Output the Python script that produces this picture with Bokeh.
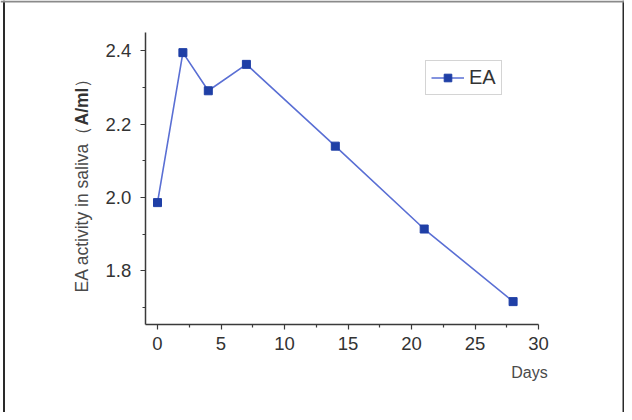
import math
from bokeh.plotting import figure
from bokeh.models import Range1d, FixedTicker, Label, Legend, Span
from bokeh.embed import file_html
from bokeh.resources import INLINE

days = [0, 2, 4, 7, 14, 21, 28]
ea_activity = [1.986, 2.395, 2.291, 2.363, 2.140, 1.914, 1.716]
x_ticks = [0, 5, 10, 15, 20, 25, 30]
y_ticks = [1.8, 2.0, 2.2, 2.4]
y_label_main = "EA activity in saliva（"
y_label_unit = "A/ml"
y_label_close = "）"
x_label = "Days"
series_name = "EA"

FONT = "Liberation Sans"

# pixel layout -> data ranges (frame covers whole canvas, axes fixed inside it)
X0_PX, X_PX_PER_UNIT = 165.0, 12.7        # page x of day 0, px per day
Y24_PX, Y_PX_PER_UNIT = 58.3, 366.7       # page y of 2.4, px per unit
W, H, OX, OY = 624, 412, 8, 8


def xd(px):
    return (px - X0_PX) / X_PX_PER_UNIT


def yd(py):
    return 2.4 - (py - Y24_PX) / Y_PX_PER_UNIT


x_axis_bounds = (-0.97, 30)
y_axis_bounds = (1.654, 2.45)

p = figure(width=W, height=H, output_backend="svg", toolbar_location=None,
           x_range=Range1d(xd(OX), xd(OX + W)), y_range=Range1d(yd(OY + H), yd(OY)),
           min_border=0, min_border_left=0, min_border_right=0,
           min_border_top=0, min_border_bottom=0)
p.outline_line_color = None
p.grid.visible = False
p.background_fill_color = "white"
p.border_fill_color = "white"

for ax in (p.xaxis[0], p.yaxis[0]):
    ax.axis_line_color = "#3a3a3a"
    ax.axis_line_width = 1.5
    ax.major_tick_line_color = "#3a3a3a"
    ax.minor_tick_line_color = "#3a3a3a"
    ax.major_tick_line_width = 1.2
    ax.minor_tick_line_width = 1.2
    ax.major_tick_in = 0
    ax.major_tick_out = 5
    ax.minor_tick_in = 0
    ax.minor_tick_out = 3
    ax.major_label_text_font = FONT
    ax.major_label_text_font_size = "18.5px"
    ax.major_label_text_color = "#333333"

p.xaxis[0].fixed_location = y_axis_bounds[0]
p.yaxis[0].fixed_location = x_axis_bounds[0]
p.xaxis[0].bounds = x_axis_bounds
p.yaxis[0].bounds = y_axis_bounds
p.xaxis[0].ticker = FixedTicker(ticks=x_ticks, minor_ticks=[t + 2.5 for t in x_ticks[:-1]])
p.yaxis[0].ticker = FixedTicker(ticks=y_ticks, minor_ticks=[1.7, 1.9, 2.1, 2.3])
p.xaxis[0].major_label_standoff = 8
p.yaxis[0].major_label_standoff = 9
p.yaxis[0].major_label_overrides = {t: f"{t:.1f}" for t in y_ticks}

line_r = p.line(days, ea_activity, line_color="#5a6fd4", line_width=1.6)
mark_r = p.scatter(days, ea_activity, marker="square", size=8, fill_color="#1f3fa6",
                   line_color="#1f3fa6")

legend = Legend(items=[(series_name, [line_r, mark_r])], location=(425, 317))
legend.label_text_font = FONT
legend.label_text_font_size = "20px"
legend.label_text_color = "#333333"
legend.border_line_color = "#aaaaaa"
legend.border_line_width = 1
legend.padding = 5
legend.margin = 0
legend.glyph_width = 33
legend.glyph_height = 19
legend.label_standoff = 5
legend.label_height = 19
legend.background_fill_alpha = 1
p.add_layout(legend, "center")

# picture frame (left / right dark, top grey)
p.add_layout(Span(location=xd(11.5), dimension="height", line_color="#2a2a2a", line_width=2))
p.add_layout(Span(location=xd(631), dimension="height", line_color="#2a2a2a", line_width=2))
p.add_layout(Span(location=yd(9), dimension="width", line_color="#8a8a8a", line_width=2))

lx = xd(89)
p.add_layout(Label(x=lx, y=yd(300), text=y_label_main, angle=math.pi / 2,
                   text_align="left", text_baseline="middle", text_font=FONT,
                   text_font_size="17.5px", text_color="#4a4a4a"))
p.add_layout(Label(x=lx, y=yd(133), text=y_label_unit, angle=math.pi / 2,
                   text_align="left", text_baseline="middle", text_font=FONT,
                   text_font_size="17.5px", text_font_style="bold", text_color="#333333"))
p.add_layout(Label(x=lx, y=yd(95), text=y_label_close, angle=math.pi / 2,
                   text_align="left", text_baseline="middle", text_font=FONT,
                   text_font_size="17.5px", text_color="#4a4a4a"))
p.add_layout(Label(x=xd(537), y=yd(380), text=x_label, text_align="center",
                   text_baseline="middle", text_font=FONT,
                   text_font_size="16px", text_color="#4a4a4a"))

open("out.html", "w").write(file_html(p, INLINE))
